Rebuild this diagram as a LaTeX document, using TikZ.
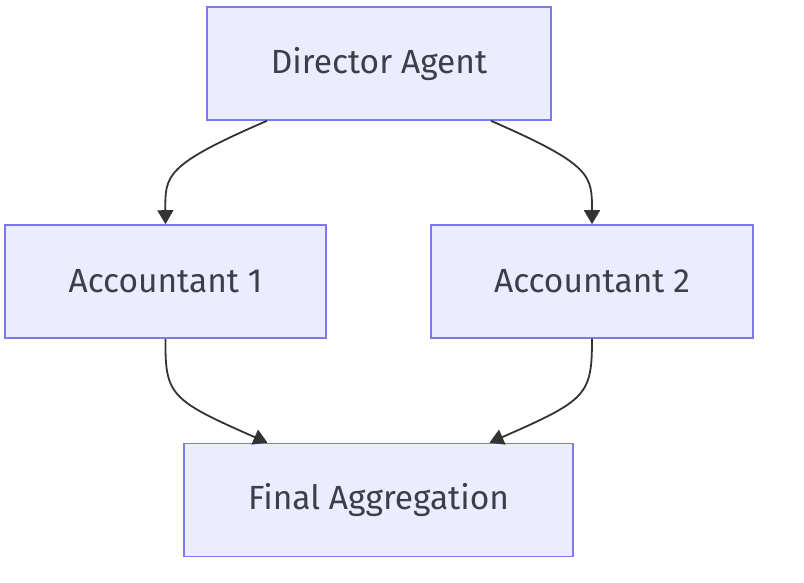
\documentclass[tikz,border=0pt]{standalone}
\usepackage{fontspec}
\setmainfont{Fira Sans}
\usetikzlibrary{arrows.meta}
\definecolor{agentfill}{HTML}{ECECFF}
\definecolor{agentline}{HTML}{7A7AEE}
\definecolor{linkcol}{HTML}{333333}
\definecolor{labelcol}{HTML}{3A3F4A}

\begin{document}
\begin{tikzpicture}[x=1pt,y=-1pt,
					agent/.style={draw=agentline,fill=agentfill,line width=1.6pt,
					minimum height=113pt,inner sep=0pt,text=labelcol,
					font=\fontsize{33.5}{40}\selectfont},
					link/.style={draw=linkcol,line width=1.8pt,
					-{Triangle[length=14pt,width=16pt]}}]
					\useasboundingbox (0,0) rectangle (804,582);
					% boxes
					\node[agent,minimum width=344pt] (dir) at (379,63.5) {Director Agent};
					\node[agent,minimum width=321pt] (acc1) at (165.5,281.5) {Accountant 1};
					\node[agent,minimum width=322pt] (acc2) at (592,281.5) {Accountant 2};
					\node[agent,minimum width=389pt] (final) at (378.5,500) {Final Aggregation};
					% links
					\draw[link] ([xshift=-112pt]dir.south) .. controls (165,165) and (165,175) .. (acc1.north);
					\draw[link] ([xshift=112pt]dir.south) .. controls (592,165) and (592,175) .. (acc2.north);
					\draw[link] (acc1.south) .. controls (165,395) and (170,400) .. ([xshift=-111pt]final.north);
					\draw[link] (acc2.south) .. controls (592,395) and (587,400) .. ([xshift=111pt]final.north);
					\end{tikzpicture}
\end{document}
